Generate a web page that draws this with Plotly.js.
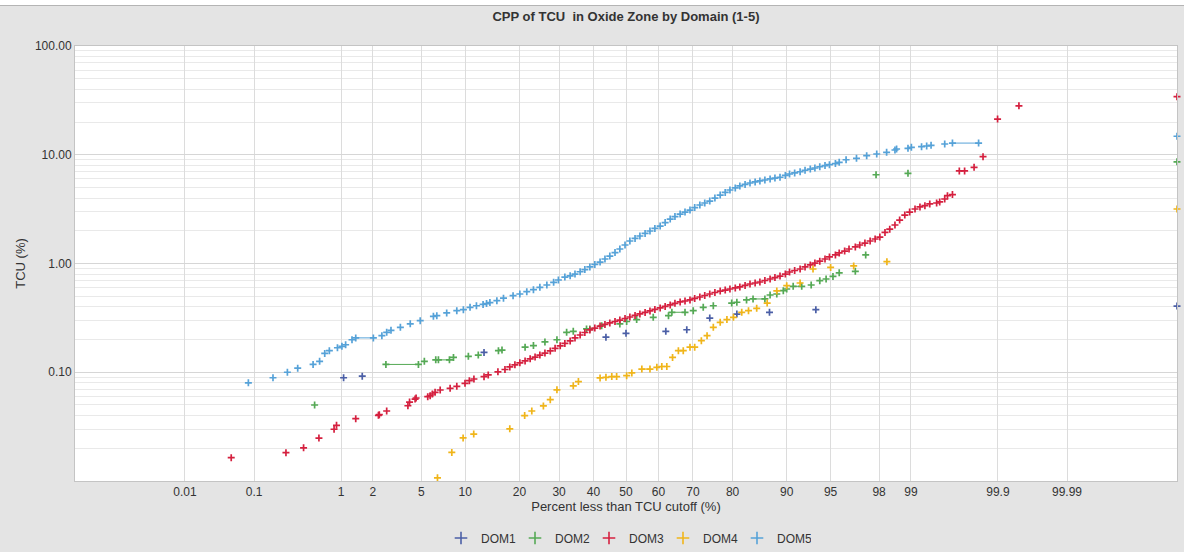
<!DOCTYPE html>
<html><head><meta charset="utf-8">
<script src="https://cdn.plot.ly/plotly-3.0.1.min.js"></script>
<style>
html,body{margin:0;padding:0;background:#fff;}
#chart{position:absolute;left:0;top:0;width:1184px;height:552px;}
#topstrip{position:absolute;left:0;top:0;width:1184px;height:5px;background:#fff;border-bottom:1px solid #b4b4b4;z-index:5;}
</style>
</head><body><div id="chart"></div><div id="topstrip"></div>
<script>
// ---------- data: cumulative percent (x) and TCU % (y) ----------
const seriesNames = ["DOM1","DOM2","DOM3","DOM4","DOM5"];

const dom1P = [1.06,1.60,12.96,43.8,50.0,62.2,68.3,74.5,80.95,87.3,93.6,100];
const dom1V = [0.089,0.092,0.152,0.21,0.228,0.238,0.246,0.315,0.343,0.356,0.376,0.406];

const dom2P = [0.53,2.60,4.75,5.26,6.36,6.64,7.90,8.40,10.45,12.0,15.6,16.3,21.3,23.3,26.2,29.4,32.1,34.0,37.9,38.9,42.5,48.1,50.2,53.3,58.4,63.0,64.0,67.8,70.1,72.8,75.4,79.8,80.95,83.0,84.3,86.5,87.4,88.5,89.5,90.0,90.9,92.0,93.1,94.0,94.6,95.2,95.7,96.8,97.38,97.87,98.93,100];
const dom2V = [0.050,0.118,0.118,0.126,0.130,0.130,0.130,0.137,0.140,0.144,0.158,0.160,0.170,0.176,0.190,0.199,0.233,0.238,0.250,0.250,0.268,0.278,0.293,0.305,0.320,0.331,0.356,0.356,0.368,0.395,0.409,0.433,0.440,0.462,0.472,0.472,0.513,0.524,0.562,0.583,0.617,0.617,0.634,0.695,0.72,0.76,0.82,0.848,1.20,6.55,6.75,8.6];

const dom3P = [0.049,0.25,0.40,0.59,0.85,0.90,1.39,2.24,2.28,2.64,3.94,4.06,4.48,4.56,5.57,5.80,6.02,6.29,6.83,7.98,8.83,9.96,10.6,11.3,12.96,13.7,15.5,16.9,17.9,19.0,20.1,21.3,22.5,23.7,24.9,26.2,27.6,28.9,30.3,31.6,33.1,34.5,36.0,37.4,38.9,40.4,42.0,43.5,45.0,46.6,48.1,49.7,51.2,52.8,54.3,55.9,57.4,58.9,60.5,62.0,63.5,64.9,66.4,67.8,69.2,70.5,71.9,73.2,74.5,75.8,77.1,78.3,79.4,80.6,81.6,82.7,83.7,84.7,85.6,86.5,87.4,88.2,89.0,89.8,90.4,91.1,91.8,92.4,93.0,93.5,94.0,94.5,94.9,95.4,95.7,96.1,96.4,96.8,97.06,97.34,97.6,97.83,98.03,98.23,98.40,98.57,98.71,98.85,98.97,99.09,99.19,99.28,99.36,99.46,99.50,99.56,99.59,99.64,99.70,99.74,99.80,99.845,99.899,99.948,100];
const dom3V = [0.0164,0.0182,0.0202,0.0248,0.0299,0.0325,0.0374,0.0402,0.0407,0.0440,0.0492,0.0532,0.0567,0.058,0.0596,0.0608,0.0631,0.0654,0.0687,0.0711,0.0742,0.0791,0.0836,0.0867,0.0910,0.0944,0.101,0.106,0.112,0.117,0.122,0.127,0.133,0.138,0.144,0.150,0.157,0.166,0.175,0.184,0.194,0.207,0.220,0.232,0.245,0.255,0.266,0.275,0.284,0.293,0.302,0.312,0.322,0.333,0.344,0.355,0.366,0.378,0.390,0.403,0.416,0.430,0.443,0.452,0.462,0.477,0.492,0.508,0.524,0.541,0.558,0.570,0.583,0.596,0.609,0.628,0.648,0.662,0.676,0.698,0.720,0.743,0.767,0.800,0.835,0.862,0.890,0.930,0.970,1.01,1.05,1.10,1.15,1.20,1.25,1.30,1.36,1.42,1.48,1.54,1.61,1.68,1.75,1.93,2.07,2.26,2.51,2.79,2.97,3.17,3.31,3.40,3.53,3.60,3.68,3.92,4.20,4.30,7.10,7.10,7.66,9.6,21.3,28.2,34.2];

const dom4P = [6.54,8.19,9.69,11.27,17.9,21.2,22.9,25.8,27.6,29.4,34.0,35.5,42.0,43.8,45.6,47.1,50.2,51.8,54.9,57.4,59.5,61.0,62.5,64.2,65.9,67.3,69.2,70.5,72.3,73.8,75.4,77.1,78.7,80.2,82.0,83.4,85.0,86.9,88.5,90.0,91.8,93.3,95.0,96.7,98.3,100];
const dom4V = [0.0107,0.0183,0.0249,0.027,0.0302,0.040,0.044,0.049,0.056,0.069,0.075,0.082,0.0886,0.0899,0.0913,0.0913,0.093,0.0985,0.107,0.107,0.111,0.113,0.113,0.137,0.158,0.158,0.170,0.170,0.195,0.217,0.259,0.288,0.305,0.320,0.356,0.368,0.387,0.433,0.56,0.625,0.662,0.89,0.92,0.95,1.04,3.17];

const dom5P = [0.084,0.174,0.26,0.343,0.51,0.60,0.68,0.76,0.92,1.02,1.11,1.28,1.39,2.02,2.40,2.64,2.87,3.43,4.11,4.90,6.12,6.47,7.57,8.83,9.73,10.7,11.7,12.8,13.4,14.0,15.3,16.6,18.6,20.1,21.7,23.3,24.9,26.7,28.5,29.8,31.6,33.1,34.5,36.0,37.4,38.9,40.4,42.0,43.5,45.0,46.6,48.1,49.7,51.2,52.8,54.3,55.9,57.4,58.9,60.5,62.0,63.5,64.9,66.4,67.8,69.2,70.5,71.9,73.2,74.5,75.8,77.1,78.3,79.4,80.6,81.6,82.7,83.7,84.7,85.6,86.5,87.4,88.2,89.0,89.8,90.4,91.1,91.8,92.4,93.0,93.5,94.0,94.5,94.9,95.4,95.7,96.2,96.87,97.43,97.9,98.29,98.57,98.62,98.93,99.01,99.22,99.31,99.38,99.56,99.64,99.824,100];
const dom5V = [0.080,0.089,0.100,0.109,0.118,0.126,0.149,0.158,0.168,0.173,0.179,0.199,0.207,0.207,0.217,0.233,0.243,0.259,0.279,0.298,0.327,0.331,0.351,0.368,0.376,0.395,0.409,0.420,0.428,0.437,0.455,0.480,0.506,0.524,0.551,0.574,0.604,0.634,0.671,0.705,0.75,0.77,0.80,0.84,0.88,0.93,0.98,1.03,1.10,1.17,1.26,1.36,1.48,1.61,1.70,1.79,1.89,1.99,2.10,2.21,2.38,2.56,2.70,2.85,2.97,3.10,3.27,3.45,3.60,3.75,4.00,4.26,4.50,4.74,4.95,5.17,5.33,5.50,5.62,5.74,5.86,5.99,6.10,6.21,6.45,6.65,6.80,6.98,7.20,7.39,7.55,7.76,7.95,8.10,8.30,8.52,9.0,9.27,9.8,10.16,10.53,11.06,11.3,11.46,11.71,11.86,12.03,12.2,12.56,12.8,12.8,14.8];

const xTickPct = [0.01,0.1,1,2,5,10,20,30,40,50,60,70,80,90,95,98,99,99.9,99.99];
const xTickText = ["0.01","0.1","1","2","5","10","20","30","40","50","60","70","80","90","95","98","99","99.9","99.99"];
const yTickVals = [0.1,1,10,100];
const colors = ["#4b5fa6","#55a955","#d5203f","#f0b51a","#56a2d8"];

// ---------- probability scale ----------
function probit(p){
  const a=[-3.969683028665376e+01,2.209460984245205e+02,-2.759285104469687e+02,1.383577518672690e+02,-3.066479806614716e+01,2.506628277459239e+00];
  const b=[-5.447609879822406e+01,1.615858368580409e+02,-1.556989798598866e+02,6.680131188771972e+01,-1.328068155288572e+01];
  const c=[-7.784894002430293e-03,-3.223964580411365e-01,-2.400758277161838e+00,-2.549732539343734e+00,4.374664141464968e+00,2.938163982698783e+00];
  const d=[7.784695709041462e-03,3.224671290700398e-01,2.445134137142996e+00,3.754408661907416e+00];
  const pl=0.02425, ph=1-pl; let q,r;
  if(p<pl){q=Math.sqrt(-2*Math.log(p));return (((((c[0]*q+c[1])*q+c[2])*q+c[3])*q+c[4])*q+c[5])/((((d[0]*q+d[1])*q+d[2])*q+d[3])*q+1);}
  if(p<=ph){q=p-0.5;r=q*q;return (((((a[0]*r+a[1])*r+a[2])*r+a[3])*r+a[4])*r+a[5])*q/(((((b[0]*r+b[1])*r+b[2])*r+b[3])*r+b[4])*r+1);}
  q=Math.sqrt(-2*Math.log(1-p));return -(((((c[0]*q+c[1])*q+c[2])*q+c[3])*q+c[4])*q+c[5])/((((d[0]*q+d[1])*q+d[2])*q+d[3])*q+1);
}
const Z_EDGE = 4.764;
function warp(z){ return z*(129 - 2.8*Math.abs(z)); }
const X_EDGE = warp(Z_EDGE);
function probScale(pct){
  if(pct >= 100) return X_EDGE;
  if(pct <= 0) return -X_EDGE;
  return warp(probit(pct/100));
}

const allP = [dom1P,dom2P,dom3P,dom4P,dom5P];
const allV = [dom1V,dom2V,dom3V,dom4V,dom5V];

const traces = [];
// tie lines (equal consecutive values joined)
allP.forEach((P,k)=>{
  const V = allV[k], lx=[], ly=[];
  let i=0;
  while(i<V.length){
    let j=i; while(j+1<V.length && V[j+1]===V[i]) j++;
    if(j>i){ for(let m=i;m<=j;m++){lx.push(probScale(P[m]));ly.push(V[m]);} lx.push(null);ly.push(null); }
    i=j+1;
  }
  traces.push({x:lx,y:ly,mode:'lines',type:'scatter',showlegend:false,hoverinfo:'skip',
    line:{color:colors[k],width:1},cliponaxis:false,legendgroup:seriesNames[k]});
});
allP.forEach((P,k)=>{
  traces.push({x:P.map(probScale),y:allV[k],mode:'markers',type:'scatter',name:seriesNames[k],showlegend:false,
    legendgroup:seriesNames[k],
    marker:{symbol:'cross-thin',size:5,color:colors[k],line:{color:colors[k],width:1.7}},cliponaxis:false});
});
// legend entries (larger symbols as in the original legend)
seriesNames.forEach((nm,k)=>{
  traces.push({x:[null],y:[null],mode:'markers',type:'scatter',name:nm,legendgroup:nm,showlegend:true,
    marker:{symbol:'cross-thin',size:9,color:colors[k],line:{color:colors[k],width:1.6}}});
});

const minorVals=[];
for(let e=-2;e<2;e++){ for(let dgt=2;dgt<=9;dgt++) minorVals.push(dgt*Math.pow(10,e)); }

const font = 'Liberation Sans, Arial, sans-serif';
const layout = {
  width:1184, height:552,
  paper_bgcolor:'#e4e4e4', plot_bgcolor:'#ffffff',
  margin:{l:75,r:7,t:46,b:71},
  font:{family:font,size:12,color:'#333'},
  title:{text:'<b>CPP of TCU  in Oxide Zone by Domain (1-5)</b>',font:{family:font,size:13,color:'#333'},
    x:0.5,xref:'paper',xanchor:'center',y:1-16/552,yref:'container',yanchor:'middle'},
  xaxis:{range:[-X_EDGE,X_EDGE],tickmode:'array',tickvals:xTickPct.map(probScale),ticktext:xTickText,
    showgrid:true,gridcolor:'#dcdcdc',gridwidth:1,zeroline:false,showline:true,linecolor:'#c4c4c4',mirror:true,
    ticks:'',tickfont:{size:12,color:'#333'},automargin:false,
    title:{text:'Percent less than TCU cutoff (%)',font:{size:13,color:'#333'},standoff:2}},
  yaxis:{type:'log',range:[-2,2],tickmode:'array',tickvals:yTickVals,tickformat:'.2f',
    showgrid:true,gridcolor:'#d6d6d6',zeroline:false,showline:true,linecolor:'#c4c4c4',mirror:true,
    ticks:'',tickfont:{size:12,color:'#333'},automargin:false,
    minor:{tickmode:'array',tickvals:minorVals,showgrid:true,gridcolor:'#e9e9e9',ticks:''},
    title:{text:'TCU (%)',font:{size:13,color:'#333'},standoff:6}},
  showlegend:true,
  legend:{orientation:'h',x:0.5,xanchor:'center',y:1-538/552,yref:'container',yanchor:'middle',
    bgcolor:'rgba(0,0,0,0)',font:{size:12,color:'#333'},itemwidth:30,entrywidth:29,entrywidthmode:'pixels',
    itemsizing:'trace',traceorder:'normal'}
};
Plotly.newPlot('chart',traces,layout,{displayModeBar:false,staticPlot:true});
</script></body></html>
